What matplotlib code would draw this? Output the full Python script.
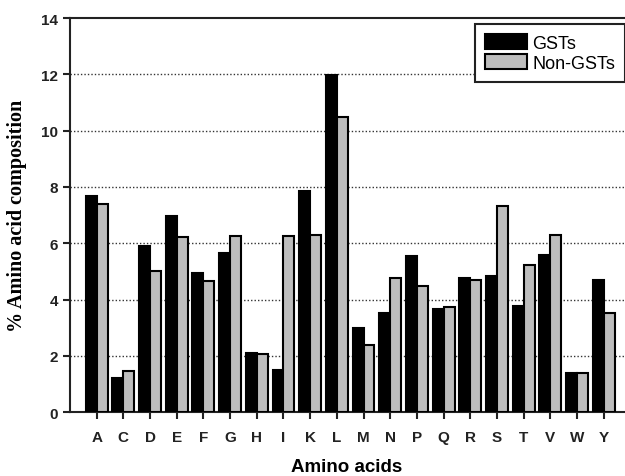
import numpy as np
import matplotlib
matplotlib.use("Agg")
from matplotlib import pyplot as plt

# amino acid composition (%)
amino = ["A", "C", "D", "E", "F", "G", "H", "I", "K", "L",
         "M", "N", "P", "Q", "R", "S", "T", "V", "W", "Y"]
gsts = [7.68, 1.20, 5.89, 6.98, 4.93, 5.64, 2.10, 1.50, 7.87, 11.98,
        2.97, 3.52, 5.55, 3.66, 4.76, 4.84, 3.76, 5.59, 1.39, 4.70]
non_gsts = [7.39, 1.45, 5.00, 6.23, 4.67, 6.24, 2.05, 6.27, 6.30, 10.50,
            2.38, 4.77, 4.48, 3.73, 4.69, 7.33, 5.23, 6.30, 1.39, 3.52]
yticks = [0, 2, 4, 6, 8, 10, 12, 14]


def main():
    fig = plt.figure(figsize=(6.25, 4.77), dpi=100)
    ax = fig.add_axes([0.112, 0.134, 0.886, 0.826])

    x = np.arange(len(amino))
    w = 0.41
    ax.bar(x - w / 2, gsts, w, color="black", edgecolor="black",
           linewidth=1.5, label="GSTs", zorder=3)
    ax.bar(x + w / 2, non_gsts, w, color="#bdbdbd", edgecolor="black",
           linewidth=1.5, label="Non-GSTs", zorder=3)

    ax.set_xlim(-1.0, 19.75)
    ax.set_ylim(0, 14)
    ax.set_yticks(yticks)
    ax.set_xticks(x)
    ax.set_xticklabels(amino)

    for v in yticks[1:-1]:
        ax.axhline(v, color="#333333", linestyle=(0, (1, 1.5)),
                   linewidth=1.0, zorder=1)

    for s in ["left", "bottom", "top"]:
        ax.spines[s].set_linewidth(1.5)
        ax.spines[s].set_color("#222222")
    ax.spines["right"].set_visible(False)

    ax.tick_params(axis="both", direction="out", length=5, width=1.5,
                   colors="#222222")
    for lab in ax.get_xticklabels() + ax.get_yticklabels():
        lab.set_fontfamily("Liberation Sans")
        lab.set_fontweight("bold")
        lab.set_fontsize(11)
    ax.tick_params(axis="x", pad=8)

    ax.set_xlabel("Amino acids", fontfamily="Liberation Sans",
                  fontweight="bold", fontsize=13.5, labelpad=10)
    ax.set_ylabel("% Amino acid composition", fontfamily="Liberation Serif",
                  fontweight="bold", fontsize=14.5, labelpad=10)

    leg = ax.legend(loc="upper right", bbox_to_anchor=(1.002, 0.985),
                    prop={"family": "Liberation Sans", "size": 13},
                    fancybox=False, edgecolor="#222222", framealpha=1,
                    handlelength=2.3, handleheight=0.9, handletextpad=0.3,
                    labelspacing=0.15, borderpad=0.55, borderaxespad=0.0)
    leg.get_frame().set_linewidth(1.5)

    fig.savefig("out.png", dpi=100)


if __name__ == '__main__':
    main()
